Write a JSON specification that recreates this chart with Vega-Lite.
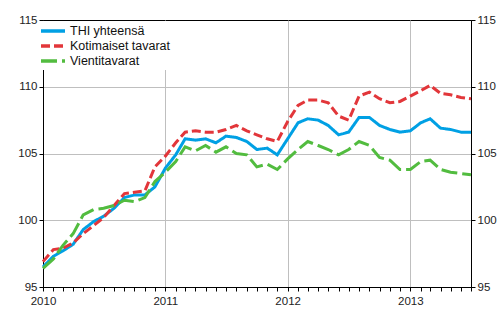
{
  "$schema": "https://vega.github.io/schema/vega-lite/v6.json",
  "width": 428,
  "height": 267,
  "autosize": "none",
  "padding": {"left": 43, "top": 20, "right": 29, "bottom": 43},
  "background": "white",
  "config": {
    "font": "Liberation Sans",
    "view": {"stroke": "black", "strokeWidth": 1},
    "axis": {"labelFontSize": 11.5, "labelColor": "#222", "tickColor": "black", "domainColor": "black", "tickSize": 4, "title": null}
  },
  "data": {"values": [
    {"date": "2010-01-01", "THI yhteensä": 96.5, "Kotimaiset tavarat": 96.9, "Vientitavarat": 96.4},
    {"date": "2010-02-01", "THI yhteensä": 97.3, "Kotimaiset tavarat": 97.8, "Vientitavarat": 97.1},
    {"date": "2010-03-01", "THI yhteensä": 97.7, "Kotimaiset tavarat": 97.9, "Vientitavarat": 98.1},
    {"date": "2010-04-01", "THI yhteensä": 98.2, "Kotimaiset tavarat": 98.3, "Vientitavarat": 99.0},
    {"date": "2010-05-01", "THI yhteensä": 99.3, "Kotimaiset tavarat": 99.0, "Vientitavarat": 100.4},
    {"date": "2010-06-01", "THI yhteensä": 99.9, "Kotimaiset tavarat": 99.6, "Vientitavarat": 100.8},
    {"date": "2010-07-01", "THI yhteensä": 100.3, "Kotimaiset tavarat": 100.2, "Vientitavarat": 100.9},
    {"date": "2010-08-01", "THI yhteensä": 100.9, "Kotimaiset tavarat": 101.1, "Vientitavarat": 101.1},
    {"date": "2010-09-01", "THI yhteensä": 101.7, "Kotimaiset tavarat": 102.0, "Vientitavarat": 101.5},
    {"date": "2010-10-01", "THI yhteensä": 101.9, "Kotimaiset tavarat": 102.1, "Vientitavarat": 101.4},
    {"date": "2010-11-01", "THI yhteensä": 101.9, "Kotimaiset tavarat": 102.2, "Vientitavarat": 101.7},
    {"date": "2010-12-01", "THI yhteensä": 102.5, "Kotimaiset tavarat": 104.0, "Vientitavarat": 102.9},
    {"date": "2011-01-01", "THI yhteensä": 103.9, "Kotimaiset tavarat": 104.8, "Vientitavarat": 103.6},
    {"date": "2011-02-01", "THI yhteensä": 104.9, "Kotimaiset tavarat": 105.8, "Vientitavarat": 104.4},
    {"date": "2011-03-01", "THI yhteensä": 106.1, "Kotimaiset tavarat": 106.6, "Vientitavarat": 105.5},
    {"date": "2011-04-01", "THI yhteensä": 106.0, "Kotimaiset tavarat": 106.7, "Vientitavarat": 105.2},
    {"date": "2011-05-01", "THI yhteensä": 106.1, "Kotimaiset tavarat": 106.6, "Vientitavarat": 105.6},
    {"date": "2011-06-01", "THI yhteensä": 105.8, "Kotimaiset tavarat": 106.6, "Vientitavarat": 105.1},
    {"date": "2011-07-01", "THI yhteensä": 106.3, "Kotimaiset tavarat": 106.8, "Vientitavarat": 105.5},
    {"date": "2011-08-01", "THI yhteensä": 106.2, "Kotimaiset tavarat": 107.1, "Vientitavarat": 105.0},
    {"date": "2011-09-01", "THI yhteensä": 105.9, "Kotimaiset tavarat": 106.7, "Vientitavarat": 104.9},
    {"date": "2011-10-01", "THI yhteensä": 105.3, "Kotimaiset tavarat": 106.4, "Vientitavarat": 104.0},
    {"date": "2011-11-01", "THI yhteensä": 105.4, "Kotimaiset tavarat": 106.1, "Vientitavarat": 104.2},
    {"date": "2011-12-01", "THI yhteensä": 104.9, "Kotimaiset tavarat": 105.9, "Vientitavarat": 103.8},
    {"date": "2012-01-01", "THI yhteensä": 106.1, "Kotimaiset tavarat": 107.4, "Vientitavarat": 104.6},
    {"date": "2012-02-01", "THI yhteensä": 107.3, "Kotimaiset tavarat": 108.6, "Vientitavarat": 105.3},
    {"date": "2012-03-01", "THI yhteensä": 107.6, "Kotimaiset tavarat": 109.0, "Vientitavarat": 105.9},
    {"date": "2012-04-01", "THI yhteensä": 107.5, "Kotimaiset tavarat": 109.0, "Vientitavarat": 105.6},
    {"date": "2012-05-01", "THI yhteensä": 107.1, "Kotimaiset tavarat": 108.8, "Vientitavarat": 105.3},
    {"date": "2012-06-01", "THI yhteensä": 106.4, "Kotimaiset tavarat": 107.8, "Vientitavarat": 104.9},
    {"date": "2012-07-01", "THI yhteensä": 106.6, "Kotimaiset tavarat": 107.5, "Vientitavarat": 105.3},
    {"date": "2012-08-01", "THI yhteensä": 107.7, "Kotimaiset tavarat": 109.3, "Vientitavarat": 105.9},
    {"date": "2012-09-01", "THI yhteensä": 107.7, "Kotimaiset tavarat": 109.6, "Vientitavarat": 105.6},
    {"date": "2012-10-01", "THI yhteensä": 107.1, "Kotimaiset tavarat": 109.1, "Vientitavarat": 104.7},
    {"date": "2012-11-01", "THI yhteensä": 106.8, "Kotimaiset tavarat": 108.8, "Vientitavarat": 104.5},
    {"date": "2012-12-01", "THI yhteensä": 106.6, "Kotimaiset tavarat": 108.9, "Vientitavarat": 103.8},
    {"date": "2013-01-01", "THI yhteensä": 106.7, "Kotimaiset tavarat": 109.3, "Vientitavarat": 103.8},
    {"date": "2013-02-01", "THI yhteensä": 107.3, "Kotimaiset tavarat": 109.7, "Vientitavarat": 104.4},
    {"date": "2013-03-01", "THI yhteensä": 107.6, "Kotimaiset tavarat": 110.1, "Vientitavarat": 104.5},
    {"date": "2013-04-01", "THI yhteensä": 106.9, "Kotimaiset tavarat": 109.5, "Vientitavarat": 103.8},
    {"date": "2013-05-01", "THI yhteensä": 106.8, "Kotimaiset tavarat": 109.4, "Vientitavarat": 103.6},
    {"date": "2013-06-01", "THI yhteensä": 106.6, "Kotimaiset tavarat": 109.2, "Vientitavarat": 103.5},
    {"date": "2013-07-01", "THI yhteensä": 106.6, "Kotimaiset tavarat": 109.1, "Vientitavarat": 103.4}
  ]},
  "transform": [
    {"fold": ["THI yhteensä", "Kotimaiset tavarat", "Vientitavarat"], "as": ["series", "value"]}
  ],
  "layer": [
    {
      "mark": {"type": "line", "strokeWidth": 3},
      "encoding": {
        "x": {
          "field": "date", "type": "temporal",
          "scale": {"type": "utc", "domain": [{"year": 2010, "month": 1, "date": 1, "utc": true}, {"year": 2013, "month": 7, "date": 1, "utc": true}]},
          "axis": {
            "tickCount": {"interval": "month", "step": 1},
            "labelExpr": "utcmonth(datum.value) == 0 ? utcFormat(datum.value, '%Y') : ''",
            "grid": true,
            "gridColor": "#bfbfbf",
            "gridOpacity": {"condition": {"test": "utcmonth(datum.value) == 0 && utcyear(datum.value) > 2010", "value": 1}, "value": 0},
            "labelFontSize": 11.5,
            "labelPadding": 4,
            "labelOverlap": false,
            "labelFlush": false
          }
        },
        "y": {
          "field": "value", "type": "quantitative",
          "scale": {"domain": [95, 115], "nice": false, "zero": false},
          "axis": {
            "values": [95, 100, 105, 110, 115],
            "grid": true,
            "gridColor": "#bfbfbf",
            "gridOpacity": {"condition": {"test": "datum.value == 95 || datum.value == 115", "value": 0}, "value": 1},
            "labelPadding": 2
          }
        },
        "color": {
          "field": "series", "type": "nominal",
          "scale": {"domain": ["THI yhteensä", "Kotimaiset tavarat", "Vientitavarat"], "range": ["#00a0e4", "#e2363a", "#52bc3f"]},
          "legend": {
            "title": null, "orient": "none", "legendX": 0, "legendY": 1,
            "fillColor": "white", "padding": 2, "symbolType": "M-2,0H2",
            "symbolSize": 144, "symbolStrokeWidth": 3.5,
            "labelFontSize": 12.5, "labelColor": "#111", "labelOffset": 9, "rowPadding": -1
          }
        },
        "strokeDash": {
          "field": "series", "type": "nominal",
          "scale": {"domain": ["THI yhteensä", "Kotimaiset tavarat", "Vientitavarat"], "range": [[1, 0], [9, 4], [16, 5]]},
          "legend": {
            "title": null, "orient": "none", "legendX": 0, "legendY": 1,
            "fillColor": "white", "padding": 2, "symbolType": "M-2,0H2",
            "symbolSize": 144, "symbolStrokeWidth": 3.5,
            "labelFontSize": 12.5, "labelColor": "#111", "labelOffset": 9, "rowPadding": -1
          }
        }
      }
    },
    {
      "mark": {"type": "line", "opacity": 0},
      "encoding": {
        "x": {"field": "date", "type": "temporal"},
        "y": {
          "field": "value", "type": "quantitative",
          "axis": {
            "orient": "right",
            "values": [95, 100, 105, 110, 115],
            "grid": false,
            "labelPadding": 2
          }
        },
        "detail": {"field": "series"}
      }
    }
  ],
  "resolve": {"axis": {"y": "independent"}}
}
